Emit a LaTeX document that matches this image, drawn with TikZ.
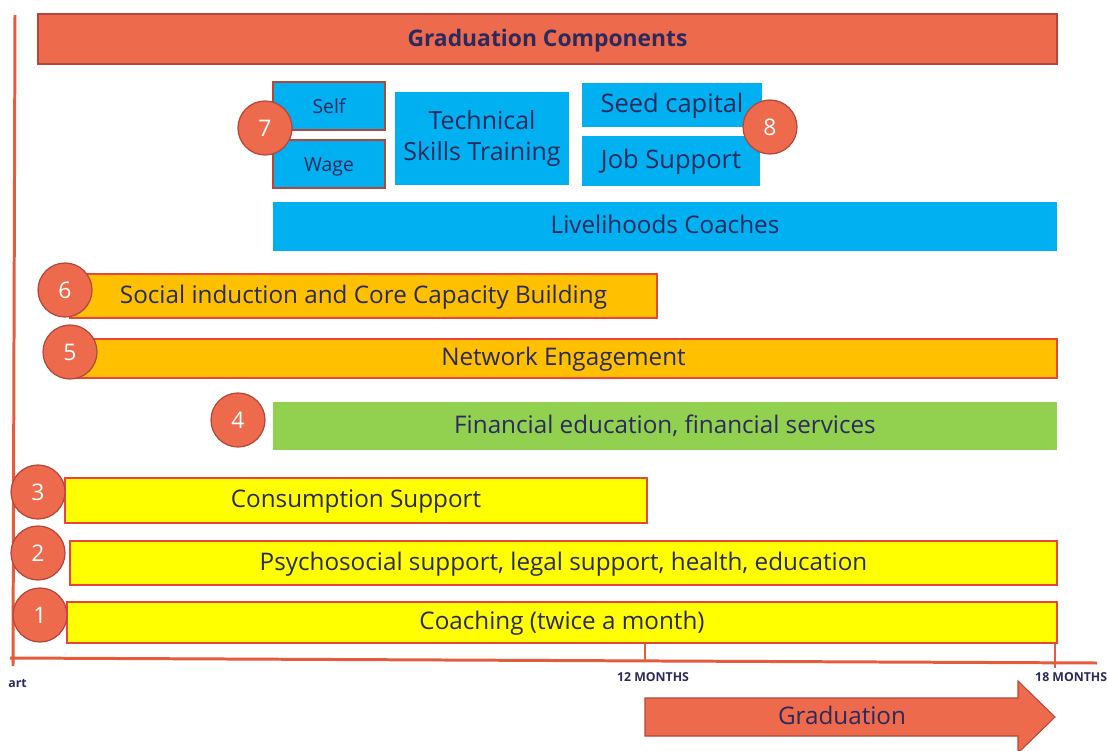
\documentclass[tikz,border=0pt]{standalone}
\usepackage{fontspec}
\setmainfont{Open Sans}
\definecolor{rust}{HTML}{EE6A4D}
\definecolor{rustdark}{HTML}{B5463A}
\definecolor{axisc}{HTML}{E45C3C}
\definecolor{sky}{HTML}{00B0F0}
\definecolor{amber}{HTML}{FFC000}
\definecolor{lime}{HTML}{92D050}
\definecolor{yel}{HTML}{FFFF00}
\definecolor{navy}{HTML}{2A2A5C}
\definecolor{redline}{HTML}{E8463A}
\tikzset{
  lowtext/.style={text height=0.95em, text depth=0.15em},
  bar/.style={rectangle, inner sep=0pt, text=navy, font=\fontsize{13.8}{17.6}\selectfont, lowtext},
  redbar/.style={bar, draw=redline, line width=0.8pt},
  num/.style={circle, fill=rust, draw=rustdark, line width=0.7pt, minimum size=1.08cm, inner sep=0pt, text=white, font=\fontsize{13}{15}\selectfont},
  axisline/.style={draw=axisc, line width=1.7pt},
  tick/.style={draw=axisc, line width=0.8pt},
  month/.style={text=navy, font=\fontsize{7}{8}\selectfont\bfseries, inner sep=0pt}
}
\begin{document}
\begin{tikzpicture}[x=0.02cm, y=-0.02cm]
\useasboundingbox (0,0) rectangle (1108,750);
\clip (0,0) rectangle (1108,750);
% axes
\coordinate (ytop) at (15,15);
\coordinate (ybot) at (13,666);
\coordinate (xl) at (10,658);
\coordinate (xr) at (1097,663);
\draw[axisline] (ytop) -- (ybot);
\draw[axisline] (xl) -- (xr);
\coordinate (t12a) at (645,640);
\coordinate (t12b) at (645,660);
\coordinate (t18a) at (1055,640);
\coordinate (t18b) at (1055,668);
\draw[tick] (t12a) -- (t12b);
\draw[tick] (t18a) -- (t18b);
\node[month] (m12) at (653,677) {12 MONTHS};
\node[month, anchor=east] (m18) at (1107.5,677) {18 MONTHS};
\node[month, anchor=west] (start) at (8,683) {art};

% header
\node[bar, fill=rust, draw=rustdark, line width=0.8pt, minimum width=20.38cm, minimum height=1.0cm, font=\fontsize{13}{15}\selectfont\bfseries] (hdr) at (547.5,39) {Graduation Components};

% livelihoods block
\node[redbar, fill=sky, draw=rustdark, minimum width=2.24cm, minimum height=0.96cm, font=\fontsize{11}{13}\selectfont] (self) at (329,106) {Self};
\node[redbar, fill=sky, draw=rustdark, minimum width=2.24cm, minimum height=0.96cm, font=\fontsize{11}{13}\selectfont] (wage) at (329,164) {Wage};
\node[rectangle, inner sep=0pt, text=navy, fill=sky, minimum width=3.48cm, minimum height=1.86cm, align=center, font=\fontsize{14.2}{17.6}\selectfont] (tech) at (482,138.5) {Technical\\Skills Training};
\node[bar, fill=sky, minimum width=3.6cm, minimum height=0.88cm, font=\fontsize{14.5}{17}\selectfont] (seed) at (672,105) {Seed capital};
\node[bar, fill=sky, minimum width=3.56cm, minimum height=1.0cm, font=\fontsize{14.5}{17}\selectfont] (job) at (671,161) {Job Support};
\node[bar, fill=sky, minimum width=15.68cm, minimum height=0.98cm] (coach) at (665,226.5) {Livelihoods Coaches};
\node[num] (n7) at (265,128) {7};
\node[num] (n8) at (770,127) {8};

% orange
\node[redbar, fill=amber, minimum width=11.74cm, minimum height=0.88cm] (social) at (363.5,296) {Social induction and Core Capacity Building};
\node[num] (n6) at (65,290) {6};
\node[redbar, fill=amber, minimum width=19.74cm, minimum height=0.78cm] (network) at (563.5,358.5) {Network Engagement};
\node[num] (n5) at (70,352) {5};

% green
\node[bar, fill=lime, minimum width=15.68cm, minimum height=0.96cm] (fin) at (665,426) {Financial education, financial services};
\node[num] (n4) at (238,420) {4};

% yellow
\node[redbar, fill=yel, minimum width=11.64cm, minimum height=0.9cm] (cons) at (356,500.5) {Consumption Support};
\node[num] (n3) at (38,492) {3};
\node[redbar, fill=yel, minimum width=19.74cm, minimum height=0.88cm] (psy) at (563.5,563) {Psychosocial support, legal support, health, education};
\node[num] (n2) at (38,553) {2};
\node[redbar, fill=yel, minimum width=19.8cm, minimum height=0.82cm] (coaching) at (562,622.5) {Coaching (twice a month)};
\node[num] (n1) at (40,615) {1};

% graduation arrow
\draw[fill=rust, draw=rustdark, line width=0.6pt] (645,698) -- (1018,698) -- (1018,681) -- (1055,717) -- (1018,753) -- (1018,736) -- (645,736) -- cycle;
\node[text=navy, font=\fontsize{13.8}{15}\selectfont, inner sep=0pt, lowtext] (grad) at (842,717) {Graduation};
\end{tikzpicture}
\end{document}
